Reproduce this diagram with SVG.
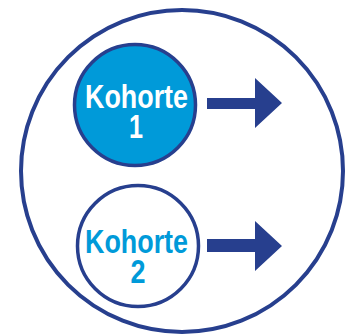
<svg xmlns="http://www.w3.org/2000/svg" width="360" height="335" viewBox="0 0 360 335">
<style>
.t{font-family:"Liberation Sans",Arial,sans-serif;font-weight:bold;font-size:33px;text-anchor:middle}
.navy{fill:#273F8E}
</style>
<rect width="360" height="335" fill="#fff"/>
<g id="outer"><circle cx="182" cy="171" r="161" fill="none" stroke="#273F8E" stroke-width="4"/></g>
<g id="kohorte1">
<circle cx="135" cy="105" r="60.5" fill="#009AD9" stroke="#273F8E" stroke-width="3.5"/>
<text class="t" fill="#fff"><tspan x="136.5" y="108.3" textLength="103" lengthAdjust="spacingAndGlyphs">Kohorte</tspan><tspan x="136" y="138" textLength="14" lengthAdjust="spacingAndGlyphs">1</tspan></text>
</g>
<g id="kohorte2">
<circle cx="138" cy="246" r="60.5" fill="#fff" stroke="#273F8E" stroke-width="3.5"/>
<text class="t" fill="#009AD9"><tspan x="136.5" y="253" textLength="103" lengthAdjust="spacingAndGlyphs">Kohorte</tspan><tspan x="138" y="283" textLength="15" lengthAdjust="spacingAndGlyphs">2</tspan></text>
</g>
<g id="connectors">
<polygon class="navy" points="207,98 255,98 255,78 282,103 255,128 255,109 207,109"/>
<polygon class="navy" points="207,239 255,239 255,221 282,246 255,271 255,252 207,252"/>
</g>
</svg>
